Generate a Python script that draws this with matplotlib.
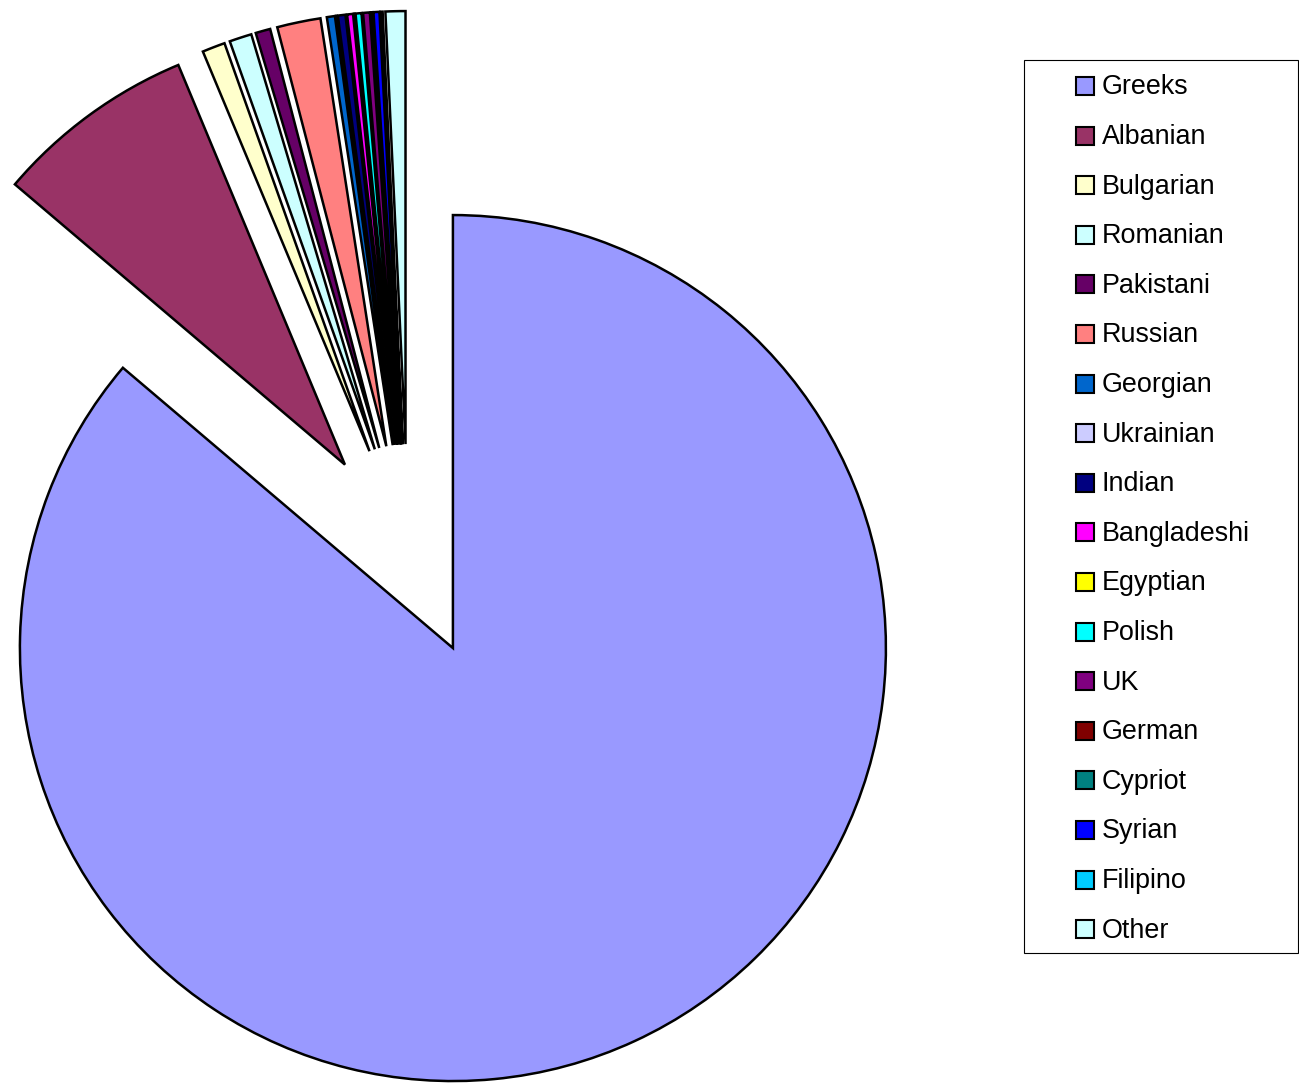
import matplotlib.pyplot as plt
from matplotlib.patches import Rectangle

plt.rcParams['font.family'] = ['Liberation Sans', 'DejaVu Sans']

# share of population (%)
labels = ['Greeks', 'Albanian', 'Bulgarian', 'Romanian', 'Pakistani', 'Russian',
          'Georgian', 'Ukrainian', 'Indian', 'Bangladeshi', 'Egyptian', 'Polish',
          'UK', 'German', 'Cypriot', 'Syrian', 'Filipino', 'Other']
values = [86.12, 7.5, 0.85, 0.83, 0.55, 1.62,
          0.30, 0.03, 0.28, 0.22, 0.03, 0.22,
          0.25, 0.03, 0.03, 0.22, 0.08, 0.74]
colors = ['#9999FF', '#993366', '#FFFFCC', '#CCFFFF', '#660066', '#FF8080',
          '#0066CC', '#CCCCFF', '#000080', '#FF00FF', '#FFFF00', '#00FFFF',
          '#800080', '#800000', '#008080', '#0000FF', '#00CCFF', '#CCFFFF']
explode = [0.247] * len(values)

W, H = 1299, 1083
fig = plt.figure(figsize=(W / 100, H / 100), dpi=100)
ax = fig.add_axes([0, 0, 1, 1])
ax.pie(values, colors=colors, explode=explode, startangle=90, counterclock=False,
       radius=1, wedgeprops=dict(edgecolor='black', linewidth=1.8))
# true pie centre at (408, 551) px, radius 433 px
r = 433.0
cx, cy = 408.0, 551.0
ax.set_xlim(-cx / r, (W - cx) / r)
ax.set_ylim(-(H - cy) / r, cy / r)
ax.set_aspect('auto')
ax.axis('off')

# legend drawn in pixel coordinates
lax = fig.add_axes([0, 0, 1, 1], zorder=5)
lax.set_xlim(0, W)
lax.set_ylim(H, 0)
lax.axis('off')
lax.patch.set_alpha(0)
lax.add_patch(Rectangle((1024, 60), 274, 893, facecolor='white', edgecolor='black', linewidth=0.8))
for i, (lab, col) in enumerate(zip(labels, colors)):
    y = 86 + 49.6 * i
    lax.add_patch(Rectangle((1076, y - 9), 18, 18, facecolor=col, edgecolor='black', linewidth=1.5))
    lax.text(1102, y + 1.5, lab, fontsize=19.4, va='center', ha='left')

fig.savefig('out.png', dpi=100)
